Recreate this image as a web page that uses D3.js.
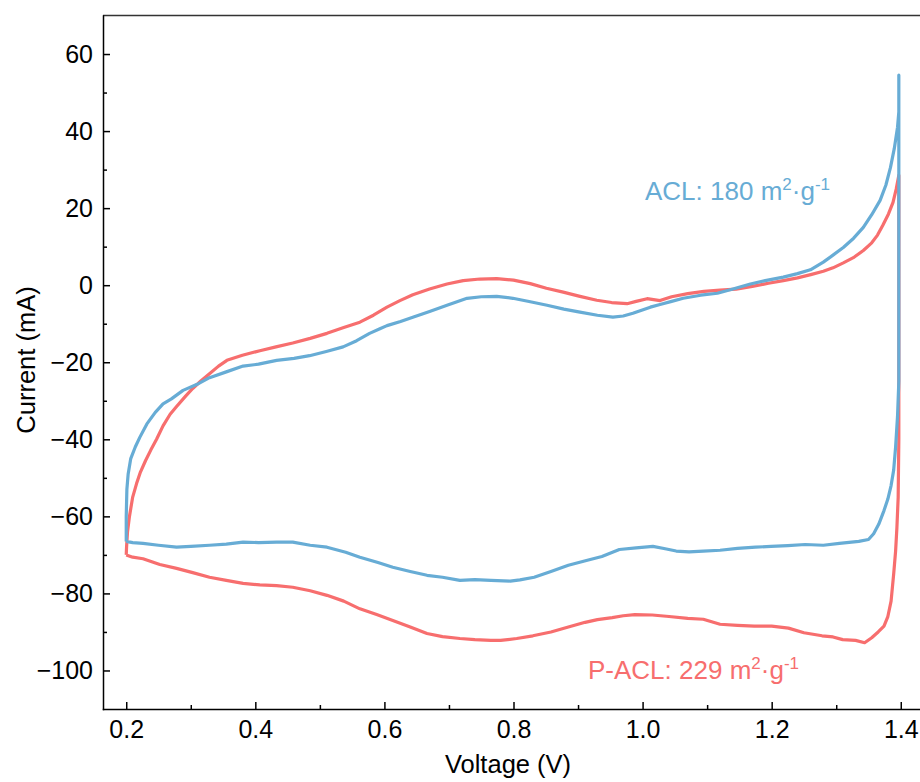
<!DOCTYPE html>
<html>
<head>
<meta charset="utf-8">
<script src="https://cdn.jsdelivr.net/npm/d3@7/dist/d3.min.js"></script>
<style>
  body { margin: 0; background: #fff; }
  svg text { font-family: "Liberation Sans", Arial, sans-serif; }
  .axis path, .axis line { stroke: #000; stroke-width: 1.5; }
  .axis text { font-size: 25px; fill: #000; }
  .axisTitle { font-size: 25.5px; fill: #000; }
  .note { font-size: 26px; }
</style>
</head>
<body>
<svg class="cv_svg" width="920" height="782"></svg>
<script>
// ACL and P-ACL cyclic voltammetry, [voltage (V), current (mA)]
var aclForward = [[0.200,-66.5],[0.200,-60],[0.201,-53],[0.203,-49],[0.207,-45],[0.214,-42],[0.221,-39.5],
  [0.232,-36],[0.245,-33],[0.257,-30.8],[0.270,-29.5],[0.288,-27.3],[0.309,-25.8],[0.329,-24],[0.355,-22.5],
  [0.381,-21],[0.405,-20.5],[0.433,-19.5],[0.460,-19.0],[0.484,-18.3],[0.510,-17.2],[0.536,-16],[0.557,-14.4],
  [0.577,-12.5],[0.593,-11.3],[0.604,-10.5],[0.625,-9.4],[0.644,-8.3],[0.670,-6.8],[0.697,-5.2],[0.728,-3.4],
  [0.750,-3.0],[0.774,-2.9],[0.799,-3.4],[0.826,-4.3],[0.852,-5.2],[0.878,-6.2],[0.903,-7.0],[0.930,-7.8],
  [0.954,-8.3],[0.970,-8.0],[0.985,-7.3],[1.012,-5.7],[1.027,-5.0],[1.045,-4.2],[1.063,-3.4],[1.090,-2.6],
  [1.116,-2.1],[1.140,-1.0],[1.167,0.3],[1.190,1.2],[1.218,2.1],[1.240,3.0],[1.260,4.0],[1.280,6.0],
  [1.295,7.8],[1.311,9.8],[1.327,12.2],[1.342,15],[1.355,18.3],[1.368,22],[1.377,26],[1.384,30.5],
  [1.390,35.5],[1.395,41],[1.397,45],[1.397,54.5]];

var aclReverse = [[1.397,54.5],[1.397,-25],[1.395,-34],[1.392,-42],[1.389,-48],[1.385,-52],[1.380,-55.5],
  [1.374,-58.5],[1.366,-62],[1.358,-64.5],[1.350,-66],[1.335,-66.5],[1.305,-67],[1.280,-67.5],[1.252,-67.3],
  [1.225,-67.6],[1.199,-67.8],[1.175,-68],[1.147,-68.3],[1.120,-68.8],[1.094,-69],[1.072,-69.2],[1.052,-69],
  [1.035,-68.4],[1.016,-67.8],[0.990,-68.2],[0.964,-68.6],[0.937,-70.4],[0.910,-71.6],[0.885,-72.7],
  [0.858,-74.3],[0.832,-75.8],[0.810,-76.5],[0.795,-76.8],[0.765,-76.6],[0.740,-76.4],[0.717,-76.6],
  [0.690,-75.8],[0.666,-75.3],[0.640,-74.3],[0.613,-73.2],[0.590,-72],[0.562,-70.6],[0.540,-69.3],
  [0.511,-68],[0.485,-67.5],[0.458,-66.7],[0.433,-66.7],[0.405,-66.8],[0.381,-66.7],[0.355,-67.2],
  [0.329,-67.5],[0.300,-67.8],[0.278,-68],[0.250,-67.5],[0.226,-67],[0.210,-66.8],[0.200,-66.5]];

var paclForward = [[0.200,-70],[0.2005,-68],[0.202,-64],[0.205,-60],[0.210,-55],[0.216,-51.5],[0.222,-48.5],
  [0.230,-45.5],[0.238,-42.8],[0.247,-40],[0.257,-36.5],[0.268,-33.5],[0.278,-31.5],[0.292,-28.8],
  [0.303,-26.8],[0.316,-24.8],[0.329,-23],[0.343,-21],[0.356,-19.5],[0.380,-18.2],[0.407,-17],[0.432,-16],
  [0.458,-15],[0.485,-13.8],[0.511,-12.5],[0.537,-11],[0.562,-9.6],[0.583,-7.8],[0.604,-5.7],[0.624,-4],
  [0.644,-2.5],[0.670,-1],[0.697,0.3],[0.722,1.2],[0.748,1.6],[0.774,1.7],[0.800,1.3],[0.826,0.4],
  [0.851,-0.8],[0.877,-1.8],[0.903,-2.9],[0.929,-3.9],[0.952,-4.5],[0.976,-4.8],[0.990,-4.2],[1.007,-3.5],
  [1.027,-4.0],[1.045,-3.0],[1.070,-2.2],[1.095,-1.6],[1.120,-1.3],[1.145,-1.0],[1.170,-0.3],[1.195,0.5],
  [1.218,1.2],[1.240,1.9],[1.262,2.8],[1.280,3.6],[1.295,4.5],[1.311,5.8],[1.328,7.3],[1.342,9],
  [1.355,11],[1.364,13],[1.372,15.5],[1.381,18.5],[1.388,21.5],[1.393,25],[1.397,28.5]];

var paclReverse = [[1.397,28.5],[1.397,-40],[1.396,-55],[1.394,-63],[1.392,-69],[1.389,-75],[1.385,-82],
  [1.380,-86],[1.374,-88.5],[1.365,-90],[1.355,-91.5],[1.344,-92.8],[1.330,-92.2],[1.310,-92],[1.295,-91.3],
  [1.278,-91],[1.250,-90.2],[1.226,-89],[1.200,-88.5],[1.173,-88.5],[1.147,-88.3],[1.120,-88],[1.094,-86.7],
  [1.070,-86.5],[1.041,-86],[1.015,-85.6],[0.988,-85.5],[0.970,-85.8],[0.953,-86.3],[0.930,-86.8],
  [0.911,-87.5],[0.885,-88.7],[0.858,-90],[0.830,-91],[0.805,-91.7],[0.780,-92.2],[0.765,-92.2],[0.740,-92],
  [0.717,-91.7],[0.690,-91.2],[0.666,-90.4],[0.640,-88.7],[0.613,-87],[0.588,-85.5],[0.562,-84],[0.537,-82],
  [0.511,-80.5],[0.485,-79.3],[0.458,-78.4],[0.433,-78],[0.407,-77.8],[0.381,-77.4],[0.355,-76.6],
  [0.329,-75.8],[0.303,-74.6],[0.278,-73.5],[0.252,-72.5],[0.226,-71],[0.210,-70.6],[0.200,-70]];

var xTicks = [0.2, 0.4, 0.6, 0.8, 1.0, 1.2, 1.4];
var xMinor = [0.3, 0.5, 0.7, 0.9, 1.1, 1.3];
var yTicks = [-100, -80, -60, -40, -20, 0, 20, 40, 60];
var yMinor = [-90, -70, -50, -30, -10, 10, 30, 50];

var svg = d3.select(".cv_svg"),
    margin = {top: 15.5, right: -4, bottom: 73, left: 103},
    width = svg.attr("width") - margin.left - margin.right,
    height = svg.attr("height") - margin.top - margin.bottom;

var blue = "#67acd5", red = "#f76e6e";

var x = d3.scaleLinear().domain([0.164, 1.436]).range([0, width]);
var y = d3.scaleLinear().domain([-110, 70]).range([height, 0]);

var g = svg.append("g")
    .attr("transform", "translate(" + margin.left + "," + margin.top + ")");

var line = d3.line()
    .x(function(d) { return x(d[0]); })
    .y(function(d) { return y(d[1]); });

// red first so the blue loop sits on top like the original
[[paclForward.concat(paclReverse), red], [aclForward.concat(aclReverse), blue]].forEach(function(s) {
  g.append("path")
    .datum(s[0])
    .attr("fill", "none")
    .attr("stroke", s[1])
    .attr("stroke-width", 3.2)
    .attr("stroke-linejoin", "round")
    .attr("d", line);
});

// frame top/right
g.append("line").attr("x1", 0).attr("x2", width).attr("y1", 0).attr("y2", 0)
  .attr("stroke", "#333").attr("stroke-width", 1.5);
g.append("line").attr("x1", width).attr("x2", width).attr("y1", 0).attr("y2", height)
  .attr("stroke", "#333").attr("stroke-width", 1.5);

var fmt = d3.format(".1f");

g.append("g")
  .attr("class", "axis")
  .attr("transform", "translate(0," + height + ")")
  .call(d3.axisBottom(x).tickValues(xTicks).tickFormat(fmt).tickSizeInner(-7).tickSizeOuter(0).tickPadding(11));

g.append("g")
  .attr("class", "axis")
  .attr("transform", "translate(0," + height + ")")
  .call(d3.axisBottom(x).tickValues(xMinor).tickFormat("").tickSizeInner(-4).tickSizeOuter(0))
  .select(".domain").remove();

g.append("g")
  .attr("class", "axis")
  .call(d3.axisLeft(y).tickValues(yTicks).tickFormat(d3.format("d")).tickSizeInner(-7).tickSizeOuter(0).tickPadding(10));

g.append("g")
  .attr("class", "axis")
  .call(d3.axisLeft(y).tickValues(yMinor).tickFormat("").tickSizeInner(-4).tickSizeOuter(0))
  .select(".domain").remove();

g.selectAll(".axis .domain").attr("stroke-linecap", "square");

svg.append("text")
  .attr("class", "axisTitle")
  .attr("x", 508)
  .attr("y", 773)
  .style("text-anchor", "middle")
  .text("Voltage (V)");

svg.append("text")
  .attr("class", "axisTitle")
  .attr("transform", "translate(35,360) rotate(-90)")
  .style("text-anchor", "middle")
  .text("Current (mA)");

function note(px, py, label, colour) {
  var t = svg.append("text")
    .attr("class", "note")
    .attr("x", px)
    .attr("y", py)
    .style("fill", colour);
  t.append("tspan").text(label + " m");
  t.append("tspan").attr("dy", -10).style("font-size", "17px").text("2");
  t.append("tspan").attr("dy", 10).text("\u00b7g");
  t.append("tspan").attr("dy", -10).style("font-size", "17px").text("-1");
}

note(645, 200, "ACL: 180", blue);
note(588, 679, "P-ACL: 229", red);
</script>
</body>
</html>
